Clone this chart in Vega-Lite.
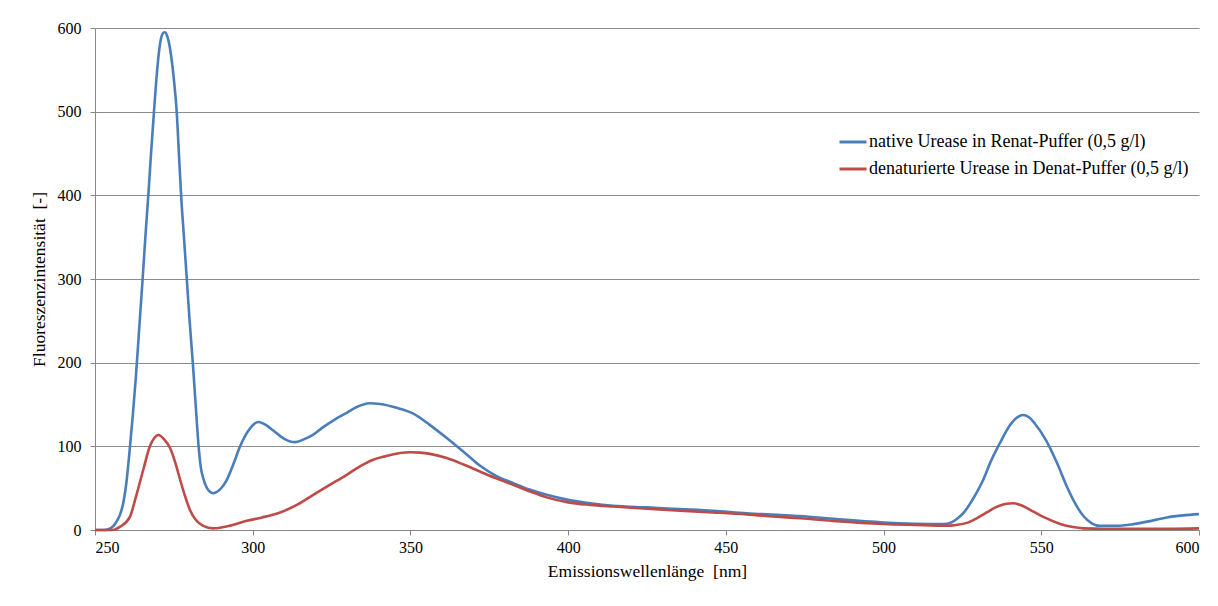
{
  "$schema": "https://vega.github.io/schema/vega-lite/v6.json",
  "autosize": "none",
  "width": 1104,
  "height": 502,
  "padding": {"left": 95, "top": 28, "right": 19, "bottom": 76},
  "background": "white",
  "config": {
    "view": {"stroke": null},
    "font": "Liberation Serif",
    "axis": {
      "labelFont": "Liberation Serif",
      "titleFont": "Liberation Serif",
      "labelFontSize": 16,
      "titleFontSize": 17.5,
      "labelColor": "black",
      "titleColor": "black",
      "titleFontWeight": "normal",
      "domainColor": "#888888",
      "tickColor": "#888888",
      "gridColor": "#8c8c8c",
      "tickSize": 5
    },
    "legend": {
      "labelFont": "Liberation Serif",
      "labelFontSize": 18,
      "labelColor": "black"
    }
  },
  "data": {
    "values": [
      {"nm": 250, "v": 0, "s": "native Urease in Renat-Puffer (0,5 g/l)"},
      {"nm": 253, "v": 0, "s": "native Urease in Renat-Puffer (0,5 g/l)"},
      {"nm": 254.2, "v": 1, "s": "native Urease in Renat-Puffer (0,5 g/l)"},
      {"nm": 255.3, "v": 3, "s": "native Urease in Renat-Puffer (0,5 g/l)"},
      {"nm": 256.5, "v": 8, "s": "native Urease in Renat-Puffer (0,5 g/l)"},
      {"nm": 257.9, "v": 18, "s": "native Urease in Renat-Puffer (0,5 g/l)"},
      {"nm": 259, "v": 33, "s": "native Urease in Renat-Puffer (0,5 g/l)"},
      {"nm": 260, "v": 58, "s": "native Urease in Renat-Puffer (0,5 g/l)"},
      {"nm": 261.1, "v": 100, "s": "native Urease in Renat-Puffer (0,5 g/l)"},
      {"nm": 262, "v": 138, "s": "native Urease in Renat-Puffer (0,5 g/l)"},
      {"nm": 263, "v": 185, "s": "native Urease in Renat-Puffer (0,5 g/l)"},
      {"nm": 264, "v": 240, "s": "native Urease in Renat-Puffer (0,5 g/l)"},
      {"nm": 265.1, "v": 300, "s": "native Urease in Renat-Puffer (0,5 g/l)"},
      {"nm": 266, "v": 352, "s": "native Urease in Renat-Puffer (0,5 g/l)"},
      {"nm": 266.9, "v": 400, "s": "native Urease in Renat-Puffer (0,5 g/l)"},
      {"nm": 267.8, "v": 452, "s": "native Urease in Renat-Puffer (0,5 g/l)"},
      {"nm": 268.7, "v": 500, "s": "native Urease in Renat-Puffer (0,5 g/l)"},
      {"nm": 269.6, "v": 545, "s": "native Urease in Renat-Puffer (0,5 g/l)"},
      {"nm": 270.5, "v": 578, "s": "native Urease in Renat-Puffer (0,5 g/l)"},
      {"nm": 271.4, "v": 593, "s": "native Urease in Renat-Puffer (0,5 g/l)"},
      {"nm": 272.1, "v": 595, "s": "native Urease in Renat-Puffer (0,5 g/l)"},
      {"nm": 273, "v": 589, "s": "native Urease in Renat-Puffer (0,5 g/l)"},
      {"nm": 274.2, "v": 565, "s": "native Urease in Renat-Puffer (0,5 g/l)"},
      {"nm": 275.1, "v": 535, "s": "native Urease in Renat-Puffer (0,5 g/l)"},
      {"nm": 275.9, "v": 500, "s": "native Urease in Renat-Puffer (0,5 g/l)"},
      {"nm": 276.6, "v": 450, "s": "native Urease in Renat-Puffer (0,5 g/l)"},
      {"nm": 277.3, "v": 400, "s": "native Urease in Renat-Puffer (0,5 g/l)"},
      {"nm": 278.2, "v": 350, "s": "native Urease in Renat-Puffer (0,5 g/l)"},
      {"nm": 279.1, "v": 300, "s": "native Urease in Renat-Puffer (0,5 g/l)"},
      {"nm": 280, "v": 250, "s": "native Urease in Renat-Puffer (0,5 g/l)"},
      {"nm": 281, "v": 200, "s": "native Urease in Renat-Puffer (0,5 g/l)"},
      {"nm": 282, "v": 145, "s": "native Urease in Renat-Puffer (0,5 g/l)"},
      {"nm": 282.8, "v": 102, "s": "native Urease in Renat-Puffer (0,5 g/l)"},
      {"nm": 283.5, "v": 76, "s": "native Urease in Renat-Puffer (0,5 g/l)"},
      {"nm": 284.3, "v": 62, "s": "native Urease in Renat-Puffer (0,5 g/l)"},
      {"nm": 285.5, "v": 50, "s": "native Urease in Renat-Puffer (0,5 g/l)"},
      {"nm": 287.4, "v": 44, "s": "native Urease in Renat-Puffer (0,5 g/l)"},
      {"nm": 289.5, "v": 48, "s": "native Urease in Renat-Puffer (0,5 g/l)"},
      {"nm": 291.8, "v": 60, "s": "native Urease in Renat-Puffer (0,5 g/l)"},
      {"nm": 294, "v": 80, "s": "native Urease in Renat-Puffer (0,5 g/l)"},
      {"nm": 296, "v": 100, "s": "native Urease in Renat-Puffer (0,5 g/l)"},
      {"nm": 298.5, "v": 118, "s": "native Urease in Renat-Puffer (0,5 g/l)"},
      {"nm": 301.8, "v": 129, "s": "native Urease in Renat-Puffer (0,5 g/l)"},
      {"nm": 304, "v": 126, "s": "native Urease in Renat-Puffer (0,5 g/l)"},
      {"nm": 306.5, "v": 119, "s": "native Urease in Renat-Puffer (0,5 g/l)"},
      {"nm": 310, "v": 109, "s": "native Urease in Renat-Puffer (0,5 g/l)"},
      {"nm": 313.4, "v": 105, "s": "native Urease in Renat-Puffer (0,5 g/l)"},
      {"nm": 316, "v": 108, "s": "native Urease in Renat-Puffer (0,5 g/l)"},
      {"nm": 319.2, "v": 114, "s": "native Urease in Renat-Puffer (0,5 g/l)"},
      {"nm": 322, "v": 122, "s": "native Urease in Renat-Puffer (0,5 g/l)"},
      {"nm": 326, "v": 132, "s": "native Urease in Renat-Puffer (0,5 g/l)"},
      {"nm": 329.8, "v": 140, "s": "native Urease in Renat-Puffer (0,5 g/l)"},
      {"nm": 333, "v": 147, "s": "native Urease in Renat-Puffer (0,5 g/l)"},
      {"nm": 337, "v": 151.5, "s": "native Urease in Renat-Puffer (0,5 g/l)"},
      {"nm": 340.4, "v": 150.5, "s": "native Urease in Renat-Puffer (0,5 g/l)"},
      {"nm": 345.6, "v": 146, "s": "native Urease in Renat-Puffer (0,5 g/l)"},
      {"nm": 350.9, "v": 139, "s": "native Urease in Renat-Puffer (0,5 g/l)"},
      {"nm": 356, "v": 126, "s": "native Urease in Renat-Puffer (0,5 g/l)"},
      {"nm": 361.5, "v": 110, "s": "native Urease in Renat-Puffer (0,5 g/l)"},
      {"nm": 367, "v": 93, "s": "native Urease in Renat-Puffer (0,5 g/l)"},
      {"nm": 372, "v": 77, "s": "native Urease in Renat-Puffer (0,5 g/l)"},
      {"nm": 377, "v": 65, "s": "native Urease in Renat-Puffer (0,5 g/l)"},
      {"nm": 382.6, "v": 56, "s": "native Urease in Renat-Puffer (0,5 g/l)"},
      {"nm": 388, "v": 48, "s": "native Urease in Renat-Puffer (0,5 g/l)"},
      {"nm": 393.2, "v": 42, "s": "native Urease in Renat-Puffer (0,5 g/l)"},
      {"nm": 400, "v": 36, "s": "native Urease in Renat-Puffer (0,5 g/l)"},
      {"nm": 407, "v": 32, "s": "native Urease in Renat-Puffer (0,5 g/l)"},
      {"nm": 414.3, "v": 29, "s": "native Urease in Renat-Puffer (0,5 g/l)"},
      {"nm": 425, "v": 27, "s": "native Urease in Renat-Puffer (0,5 g/l)"},
      {"nm": 435.5, "v": 25, "s": "native Urease in Renat-Puffer (0,5 g/l)"},
      {"nm": 446, "v": 23, "s": "native Urease in Renat-Puffer (0,5 g/l)"},
      {"nm": 456.6, "v": 20, "s": "native Urease in Renat-Puffer (0,5 g/l)"},
      {"nm": 467.2, "v": 18, "s": "native Urease in Renat-Puffer (0,5 g/l)"},
      {"nm": 473.5, "v": 16.7, "s": "native Urease in Renat-Puffer (0,5 g/l)"},
      {"nm": 485, "v": 13, "s": "native Urease in Renat-Puffer (0,5 g/l)"},
      {"nm": 500, "v": 9, "s": "native Urease in Renat-Puffer (0,5 g/l)"},
      {"nm": 510, "v": 7.5, "s": "native Urease in Renat-Puffer (0,5 g/l)"},
      {"nm": 519, "v": 7, "s": "native Urease in Renat-Puffer (0,5 g/l)"},
      {"nm": 521.5, "v": 9, "s": "native Urease in Renat-Puffer (0,5 g/l)"},
      {"nm": 523.5, "v": 14, "s": "native Urease in Renat-Puffer (0,5 g/l)"},
      {"nm": 525.5, "v": 21, "s": "native Urease in Renat-Puffer (0,5 g/l)"},
      {"nm": 528, "v": 35, "s": "native Urease in Renat-Puffer (0,5 g/l)"},
      {"nm": 531.6, "v": 60, "s": "native Urease in Renat-Puffer (0,5 g/l)"},
      {"nm": 534, "v": 82, "s": "native Urease in Renat-Puffer (0,5 g/l)"},
      {"nm": 536.9, "v": 104, "s": "native Urease in Renat-Puffer (0,5 g/l)"},
      {"nm": 540, "v": 125, "s": "native Urease in Renat-Puffer (0,5 g/l)"},
      {"nm": 542.5, "v": 135, "s": "native Urease in Renat-Puffer (0,5 g/l)"},
      {"nm": 544.2, "v": 137.5, "s": "native Urease in Renat-Puffer (0,5 g/l)"},
      {"nm": 546, "v": 135, "s": "native Urease in Renat-Puffer (0,5 g/l)"},
      {"nm": 548, "v": 127, "s": "native Urease in Renat-Puffer (0,5 g/l)"},
      {"nm": 551.7, "v": 106, "s": "native Urease in Renat-Puffer (0,5 g/l)"},
      {"nm": 555, "v": 80, "s": "native Urease in Renat-Puffer (0,5 g/l)"},
      {"nm": 558.1, "v": 52, "s": "native Urease in Renat-Puffer (0,5 g/l)"},
      {"nm": 561, "v": 30, "s": "native Urease in Renat-Puffer (0,5 g/l)"},
      {"nm": 563.3, "v": 17, "s": "native Urease in Renat-Puffer (0,5 g/l)"},
      {"nm": 566, "v": 8, "s": "native Urease in Renat-Puffer (0,5 g/l)"},
      {"nm": 568.6, "v": 5, "s": "native Urease in Renat-Puffer (0,5 g/l)"},
      {"nm": 574, "v": 5, "s": "native Urease in Renat-Puffer (0,5 g/l)"},
      {"nm": 579.2, "v": 7, "s": "native Urease in Renat-Puffer (0,5 g/l)"},
      {"nm": 585, "v": 11, "s": "native Urease in Renat-Puffer (0,5 g/l)"},
      {"nm": 589.8, "v": 15, "s": "native Urease in Renat-Puffer (0,5 g/l)"},
      {"nm": 595, "v": 17.5, "s": "native Urease in Renat-Puffer (0,5 g/l)"},
      {"nm": 600, "v": 19, "s": "native Urease in Renat-Puffer (0,5 g/l)"},
      {"nm": 250, "v": 0, "s": "denaturierte Urease in Denat-Puffer (0,5 g/l)"},
      {"nm": 255.7, "v": 0, "s": "denaturierte Urease in Denat-Puffer (0,5 g/l)"},
      {"nm": 258, "v": 4, "s": "denaturierte Urease in Denat-Puffer (0,5 g/l)"},
      {"nm": 261.1, "v": 16, "s": "denaturierte Urease in Denat-Puffer (0,5 g/l)"},
      {"nm": 263, "v": 40, "s": "denaturierte Urease in Denat-Puffer (0,5 g/l)"},
      {"nm": 265.3, "v": 72, "s": "denaturierte Urease in Denat-Puffer (0,5 g/l)"},
      {"nm": 267.4, "v": 100, "s": "denaturierte Urease in Denat-Puffer (0,5 g/l)"},
      {"nm": 268.8, "v": 110, "s": "denaturierte Urease in Denat-Puffer (0,5 g/l)"},
      {"nm": 270.1, "v": 113.5, "s": "denaturierte Urease in Denat-Puffer (0,5 g/l)"},
      {"nm": 272, "v": 108, "s": "denaturierte Urease in Denat-Puffer (0,5 g/l)"},
      {"nm": 273.8, "v": 98, "s": "denaturierte Urease in Denat-Puffer (0,5 g/l)"},
      {"nm": 275.5, "v": 80, "s": "denaturierte Urease in Denat-Puffer (0,5 g/l)"},
      {"nm": 277, "v": 60, "s": "denaturierte Urease in Denat-Puffer (0,5 g/l)"},
      {"nm": 278.5, "v": 41, "s": "denaturierte Urease in Denat-Puffer (0,5 g/l)"},
      {"nm": 280.1, "v": 24, "s": "denaturierte Urease in Denat-Puffer (0,5 g/l)"},
      {"nm": 282, "v": 12, "s": "denaturierte Urease in Denat-Puffer (0,5 g/l)"},
      {"nm": 284.3, "v": 5, "s": "denaturierte Urease in Denat-Puffer (0,5 g/l)"},
      {"nm": 287.5, "v": 2, "s": "denaturierte Urease in Denat-Puffer (0,5 g/l)"},
      {"nm": 292.3, "v": 4.8, "s": "denaturierte Urease in Denat-Puffer (0,5 g/l)"},
      {"nm": 298.1, "v": 11, "s": "denaturierte Urease in Denat-Puffer (0,5 g/l)"},
      {"nm": 303, "v": 15, "s": "denaturierte Urease in Denat-Puffer (0,5 g/l)"},
      {"nm": 308.7, "v": 21, "s": "denaturierte Urease in Denat-Puffer (0,5 g/l)"},
      {"nm": 314, "v": 30, "s": "denaturierte Urease in Denat-Puffer (0,5 g/l)"},
      {"nm": 319.2, "v": 42, "s": "denaturierte Urease in Denat-Puffer (0,5 g/l)"},
      {"nm": 324, "v": 53, "s": "denaturierte Urease in Denat-Puffer (0,5 g/l)"},
      {"nm": 329.8, "v": 66, "s": "denaturierte Urease in Denat-Puffer (0,5 g/l)"},
      {"nm": 334, "v": 76, "s": "denaturierte Urease in Denat-Puffer (0,5 g/l)"},
      {"nm": 338.2, "v": 84, "s": "denaturierte Urease in Denat-Puffer (0,5 g/l)"},
      {"nm": 342, "v": 88, "s": "denaturierte Urease in Denat-Puffer (0,5 g/l)"},
      {"nm": 346.7, "v": 92, "s": "denaturierte Urease in Denat-Puffer (0,5 g/l)"},
      {"nm": 350, "v": 93, "s": "denaturierte Urease in Denat-Puffer (0,5 g/l)"},
      {"nm": 353, "v": 92.5, "s": "denaturierte Urease in Denat-Puffer (0,5 g/l)"},
      {"nm": 356.2, "v": 91, "s": "denaturierte Urease in Denat-Puffer (0,5 g/l)"},
      {"nm": 361.5, "v": 86, "s": "denaturierte Urease in Denat-Puffer (0,5 g/l)"},
      {"nm": 367, "v": 78, "s": "denaturierte Urease in Denat-Puffer (0,5 g/l)"},
      {"nm": 372, "v": 70, "s": "denaturierte Urease in Denat-Puffer (0,5 g/l)"},
      {"nm": 377, "v": 62, "s": "denaturierte Urease in Denat-Puffer (0,5 g/l)"},
      {"nm": 382.6, "v": 54, "s": "denaturierte Urease in Denat-Puffer (0,5 g/l)"},
      {"nm": 388, "v": 46, "s": "denaturierte Urease in Denat-Puffer (0,5 g/l)"},
      {"nm": 393.2, "v": 39, "s": "denaturierte Urease in Denat-Puffer (0,5 g/l)"},
      {"nm": 400, "v": 33, "s": "denaturierte Urease in Denat-Puffer (0,5 g/l)"},
      {"nm": 407, "v": 30, "s": "denaturierte Urease in Denat-Puffer (0,5 g/l)"},
      {"nm": 414.3, "v": 28, "s": "denaturierte Urease in Denat-Puffer (0,5 g/l)"},
      {"nm": 425, "v": 25.5, "s": "denaturierte Urease in Denat-Puffer (0,5 g/l)"},
      {"nm": 435.5, "v": 23, "s": "denaturierte Urease in Denat-Puffer (0,5 g/l)"},
      {"nm": 446, "v": 21, "s": "denaturierte Urease in Denat-Puffer (0,5 g/l)"},
      {"nm": 456.6, "v": 18.7, "s": "denaturierte Urease in Denat-Puffer (0,5 g/l)"},
      {"nm": 467.2, "v": 15.5, "s": "denaturierte Urease in Denat-Puffer (0,5 g/l)"},
      {"nm": 473.5, "v": 14, "s": "denaturierte Urease in Denat-Puffer (0,5 g/l)"},
      {"nm": 485, "v": 10.5, "s": "denaturierte Urease in Denat-Puffer (0,5 g/l)"},
      {"nm": 500, "v": 7.2, "s": "denaturierte Urease in Denat-Puffer (0,5 g/l)"},
      {"nm": 510, "v": 6, "s": "denaturierte Urease in Denat-Puffer (0,5 g/l)"},
      {"nm": 520, "v": 5, "s": "denaturierte Urease in Denat-Puffer (0,5 g/l)"},
      {"nm": 523, "v": 6, "s": "denaturierte Urease in Denat-Puffer (0,5 g/l)"},
      {"nm": 526.4, "v": 8.5, "s": "denaturierte Urease in Denat-Puffer (0,5 g/l)"},
      {"nm": 529.5, "v": 14, "s": "denaturierte Urease in Denat-Puffer (0,5 g/l)"},
      {"nm": 532.7, "v": 21, "s": "denaturierte Urease in Denat-Puffer (0,5 g/l)"},
      {"nm": 535.5, "v": 27, "s": "denaturierte Urease in Denat-Puffer (0,5 g/l)"},
      {"nm": 538.5, "v": 31, "s": "denaturierte Urease in Denat-Puffer (0,5 g/l)"},
      {"nm": 541.2, "v": 32, "s": "denaturierte Urease in Denat-Puffer (0,5 g/l)"},
      {"nm": 544, "v": 29, "s": "denaturierte Urease in Denat-Puffer (0,5 g/l)"},
      {"nm": 547.5, "v": 22, "s": "denaturierte Urease in Denat-Puffer (0,5 g/l)"},
      {"nm": 551, "v": 15, "s": "denaturierte Urease in Denat-Puffer (0,5 g/l)"},
      {"nm": 556, "v": 7.2, "s": "denaturierte Urease in Denat-Puffer (0,5 g/l)"},
      {"nm": 560, "v": 3.5, "s": "denaturierte Urease in Denat-Puffer (0,5 g/l)"},
      {"nm": 563.3, "v": 2, "s": "denaturierte Urease in Denat-Puffer (0,5 g/l)"},
      {"nm": 570, "v": 1.5, "s": "denaturierte Urease in Denat-Puffer (0,5 g/l)"},
      {"nm": 580, "v": 1.5, "s": "denaturierte Urease in Denat-Puffer (0,5 g/l)"},
      {"nm": 590, "v": 1.5, "s": "denaturierte Urease in Denat-Puffer (0,5 g/l)"},
      {"nm": 600, "v": 2, "s": "denaturierte Urease in Denat-Puffer (0,5 g/l)"}
    ]
  },
  "mark": {"type": "line", "strokeWidth": 2.6, "interpolate": "monotone"},
  "encoding": {
    "x": {
      "field": "nm",
      "type": "quantitative",
      "scale": {"domain": [250, 600], "nice": false, "zero": false},
      "axis": {
        "title": "Emissionswellenlänge \u00a0[nm]",
        "values": [250, 300, 350, 400, 450, 500, 550, 600],
        "grid": false,
        "labelPadding": 4,
        "titlePadding": 7
      }
    },
    "y": {
      "field": "v",
      "type": "quantitative",
      "scale": {"domain": [0, 600], "nice": false},
      "axis": {
        "title": "Fluoreszenzintensität \u00a0[-]",
        "values": [0, 100, 200, 300, 400, 500, 600],
        "grid": true,
        "labelPadding": 9,
        "titlePadding": 9
      }
    },
    "color": {
      "field": "s",
      "type": "nominal",
      "sort": ["native Urease in Renat-Puffer (0,5 g/l)", "denaturierte Urease in Denat-Puffer (0,5 g/l)"],
      "scale": {
        "domain": ["native Urease in Renat-Puffer (0,5 g/l)", "denaturierte Urease in Denat-Puffer (0,5 g/l)"],
        "range": ["#4a7ebb", "#be4b48"]
      },
      "legend": {
        "title": null,
        "orient": "none",
        "legendX": 743,
        "legendY": 99,
        "symbolType": "stroke",
        "symbolSize": 729,
        "symbolStrokeWidth": 3,
        "rowPadding": 3,
        "labelOffset": 1,
        "labelFont": "Liberation Serif",
        "labelFontSize": 18,
        "labelColor": "black",
        "labelLimit": 500
      }
    }
  }
}
